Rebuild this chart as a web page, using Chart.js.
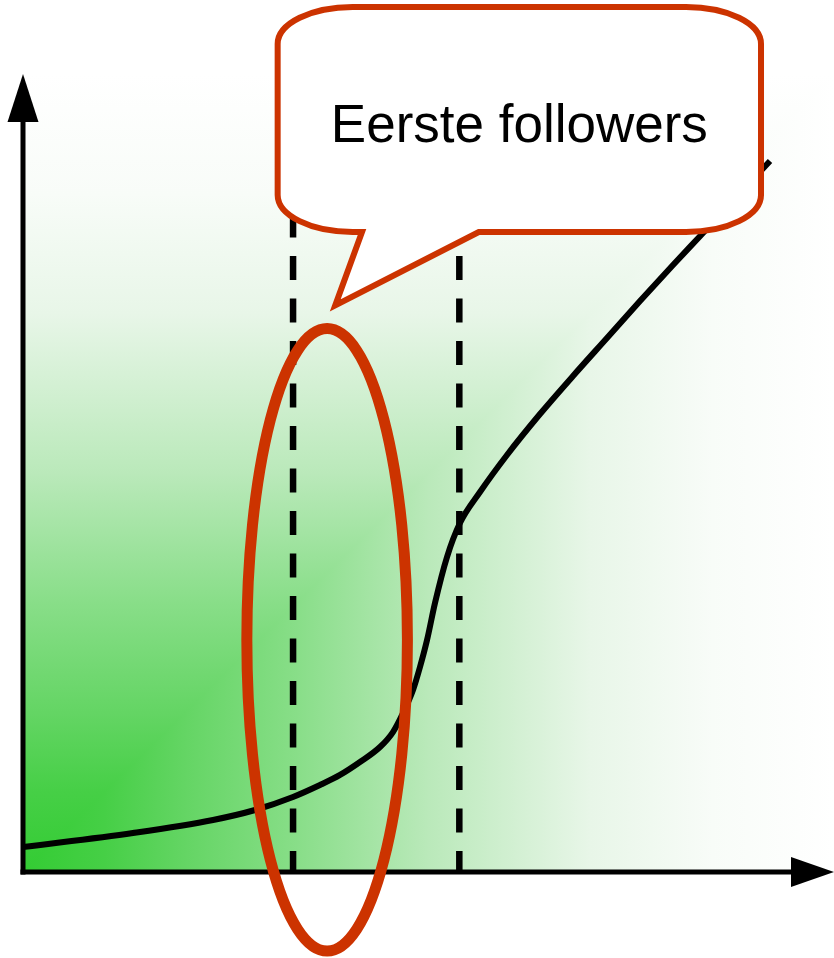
<!DOCTYPE html>
<html>
<head>
<meta charset="utf-8">
<style>
html,body{margin:0;padding:0;background:#fff;overflow:hidden}
canvas{display:block}
</style>
<script src="https://cdn.jsdelivr.net/npm/chart.js@4/dist/chart.umd.min.js"></script>
</head>
<body>
<canvas id="c" width="834" height="958"></canvas>
<script>
// ---- data (axis units 0..100) ----
const timeX    = [0, 13.56, 23.43, 28.61, 33.29, 36.62, 39.09, 41.55, 44.02, 45.62, 46.86, 48.09, 48.95, 49.82, 50.80, 52.28, 53.88, 56.35, 59.68, 63.75, 67.82, 72.01, 76.08, 80.15, 83.85, 92.11];
const adoption = [3.13, 4.89, 6.52, 7.77, 9.40, 10.90, 12.16, 13.78, 15.66, 17.54, 19.92, 22.81, 25.69, 29.07, 33.71, 39.47, 43.73, 47.62, 52.26, 57.39, 62.16, 66.92, 71.55, 76.07, 80.08, 89.10];
const phaseLines   = [33.3, 53.8];
const phaseLineTop = 83;
const calloutText  = 'Eerste followers';

// annotation geometry (axis units)
const highlight = { cx: 37.5, cy: 29.1, rx: 9.9, ry: 39.0 };
const callout   = { x0: 31.4, x1: 91.0, y0: 80.2, y1: 108.4, tailL: 41.8, tailR: 56.2, tipX: 38.5, tipY: 71.0, textY: 91.5 };

const curveData = timeX.map((x, i) => ({ x, y: adoption[i] }));
const dashSets = phaseLines.map(x => ({
  data: [{ x, y: 0 }, { x, y: phaseLineTop }],
  borderColor: '#000', borderWidth: 6.5, borderDash: [24, 18.5], borderDashOffset: 3,
  pointRadius: 0, tension: 0, clip: false
}));

const RED = '#cc3300';

const bgPlugin = {
  id: 'bg',
  beforeDatasetsDraw(chart) {
    const ctx = chart.ctx;
    const { left, right, top, bottom } = chart.chartArea;
    const stops = [[0,'rgb(51,204,51)'],[0.1,'rgb(70,207,70)'],[0.2,'rgb(100,213,100)'],[0.34,'rgb(137,222,137)'],
                   [0.5,'rgb(186,233,186)'],[0.7,'rgb(232,246,232)'],[0.85,'rgb(248,252,248)'],[1,'#ffffff']];
    ctx.save();
    const gh = ctx.createLinearGradient(left, 0, right, 0);
    stops.forEach(s => gh.addColorStop(s[0], s[1]));
    ctx.fillStyle = gh;
    ctx.fillRect(left, top, right - left, bottom - top);
    ctx.beginPath();
    ctx.moveTo(left, bottom); ctx.lineTo(right, top); ctx.lineTo(left, top); ctx.closePath();
    ctx.clip();
    const gv = ctx.createLinearGradient(0, bottom, 0, top);
    stops.forEach(s => gv.addColorStop(s[0], s[1]));
    ctx.fillStyle = gv;
    ctx.fillRect(left, top, right - left, bottom - top);
    ctx.restore();
  }
};

const overlayPlugin = {
  id: 'overlay',
  afterDatasetsDraw(chart) {
    const ctx = chart.ctx;
    const xs = chart.scales.x, ys = chart.scales.y;
    const px = v => xs.getPixelForValue(v), py = v => ys.getPixelForValue(v);
    const left = px(0), right = px(100), top = py(100), bottom = py(0);
    ctx.save();
    // axes with arrows
    ctx.strokeStyle = '#000'; ctx.fillStyle = '#000'; ctx.lineWidth = 5; ctx.lineCap = 'butt';
    ctx.beginPath(); ctx.moveTo(left, bottom + 2.5); ctx.lineTo(left, top + 40); ctx.stroke();
    ctx.beginPath(); ctx.moveTo(left, top); ctx.lineTo(left - 15.5, top + 48); ctx.lineTo(left + 15.5, top + 48); ctx.closePath(); ctx.fill();
    ctx.beginPath(); ctx.moveTo(left - 2.5, bottom); ctx.lineTo(right - 40, bottom); ctx.stroke();
    ctx.beginPath(); ctx.moveTo(right, bottom); ctx.lineTo(right - 43, bottom - 15); ctx.lineTo(right - 43, bottom + 15); ctx.closePath(); ctx.fill();

    // highlight ellipse
    const ecx = px(highlight.cx), ecy = py(highlight.cy);
    const erx = px(highlight.cx + highlight.rx) - ecx, ery = ecy - py(highlight.cy + highlight.ry);
    ctx.beginPath(); ctx.ellipse(ecx, ecy, erx, ery, 0, 0, Math.PI * 2);
    ctx.strokeStyle = RED; ctx.lineWidth = 11; ctx.stroke();

    // callout bubble
    const L = px(callout.x0), R = px(callout.x1), T = py(callout.y1), B = py(callout.y0);
    const rx = 75, ry = 37;
    ctx.beginPath();
    ctx.moveTo(L + rx, T);
    ctx.lineTo(R - rx, T);
    ctx.ellipse(R - rx, T + ry, rx, ry, 0, -Math.PI / 2, 0);
    ctx.lineTo(R, B - ry);
    ctx.ellipse(R - rx, B - ry, rx, ry, 0, 0, Math.PI / 2);
    ctx.lineTo(px(callout.tailR), B);
    ctx.lineTo(px(callout.tipX), py(callout.tipY));
    ctx.lineTo(px(callout.tailL), B);
    ctx.lineTo(L + rx, B);
    ctx.ellipse(L + rx, B - ry, rx, ry, 0, Math.PI / 2, Math.PI);
    ctx.lineTo(L, T + ry);
    ctx.ellipse(L + rx, T + ry, rx, ry, 0, Math.PI, Math.PI * 1.5);
    ctx.closePath();
    ctx.fillStyle = '#fff'; ctx.fill();
    ctx.strokeStyle = RED; ctx.lineWidth = 6; ctx.lineJoin = 'miter'; ctx.stroke();

    ctx.fillStyle = '#000';
    ctx.font = '53px "Liberation Sans", Arial, sans-serif';
    ctx.textAlign = 'center'; ctx.textBaseline = 'alphabetic';
    ctx.fillText(calloutText, (L + R) / 2, py(callout.textY));
    ctx.restore();
  }
};

new Chart(document.getElementById('c'), {
  type: 'line',
  data: {
    datasets: [
      { data: curveData, borderColor: '#000', borderWidth: 6, pointRadius: 0,
        cubicInterpolationMode: 'monotone', clip: false },
      ...dashSets
    ]
  },
  options: {
    responsive: false, animation: false, devicePixelRatio: 1,
    layout: { padding: { left: 23, top: 74, right: 0, bottom: 86 } },
    plugins: { legend: { display: false }, tooltip: { enabled: false } },
    scales: {
      x: { type: 'linear', min: 0, max: 100, display: false },
      y: { type: 'linear', min: 0, max: 100, display: false }
    }
  },
  plugins: [bgPlugin, overlayPlugin]
});
</script>
</body>
</html>
